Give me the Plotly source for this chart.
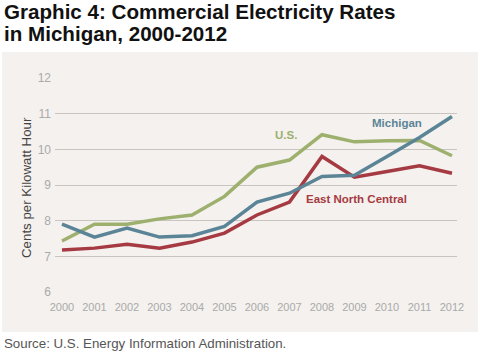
import plotly.graph_objects as go

years = list(range(2000, 2013))
michigan = [7.90, 7.54, 7.79, 7.54, 7.58, 7.84, 8.52, 8.77, 9.24, 9.27, 9.80, 10.33, 10.92]
us = [7.43, 7.90, 7.90, 8.05, 8.16, 8.68, 9.50, 9.70, 10.41, 10.21, 10.24, 10.25, 9.82]
enc = [7.18, 7.23, 7.34, 7.23, 7.40, 7.65, 8.16, 8.52, 9.80, 9.22, 9.38, 9.54, 9.33]
y_ticks = [6, 7, 8, 9, 10, 11, 12]

C_MI = "#5b8597"
C_US = "#9db06e"
C_ENC = "#a63a42"

fig = go.Figure()
for name, vals, col in [("U.S.", us, C_US), ("East North Central", enc, C_ENC), ("Michigan", michigan, C_MI)]:
    fig.add_trace(go.Scatter(x=years, y=vals, mode="lines", name=name,
                             line=dict(color=col, width=3.5)))

W, H = 480, 356
L, R, T, B = 55, 23, 78, 64
pw, ph = W - L - R, H - T - B

def px_x(px):
    return (px - L) / pw

def px_y(py):
    return (H - B - py) / ph

fig.add_shape(type="rect", xref="paper", yref="paper", layer="below",
              x0=px_x(2), x1=px_x(478), y0=px_y(332), y1=px_y(52),
              fillcolor="#f4f1ee", line=dict(width=0))

font = "Liberation Sans, Arial, sans-serif"
ann = [
    dict(text="<b>Graphic 4: Commercial Electricity Rates</b>", x=px_x(2), y=px_y(11),
         xanchor="left", yanchor="middle", font=dict(size=20.6, color="#111")),
    dict(text="<b>in Michigan, 2000-2012</b>", x=px_x(2), y=px_y(34),
         xanchor="left", yanchor="middle", font=dict(size=20.6, color="#111")),
    dict(text="Source: U.S. Energy Information Administration.", x=px_x(2), y=px_y(343),
         xanchor="left", yanchor="middle", font=dict(size=13.3, color="#555")),
    dict(text="Cents per Kilowatt Hour", x=px_x(26), y=px_y(188), textangle=-90,
         xanchor="center", yanchor="middle", font=dict(size=13.3, color="#444")),
]
for a in ann:
    a.update(xref="paper", yref="paper", showarrow=False)
    a["font"]["family"] = font
    fig.add_annotation(**a)

labels = [("<b>Michigan</b>", 2010.30, 10.73, C_MI),
          ("<b>U.S.</b>", 2006.88, 10.40, C_US),
          ("<b>East North Central</b>", 2009.07, 8.61, C_ENC)]
for t, x, y, c in labels:
    fig.add_annotation(text=t, x=x, y=y, xref="x", yref="y", showarrow=False,
                       xanchor="center", yanchor="middle",
                       font=dict(size=11.5, color=c, family=font))

fig.update_layout(
    width=W, height=H, margin=dict(l=L, r=R, t=T, b=B),
    paper_bgcolor="white", plot_bgcolor="rgba(0,0,0,0)",
    showlegend=False, font=dict(family=font),
    xaxis=dict(range=[1999.785, 2012.154], tickvals=years, ticktext=[str(y) for y in years],
               showgrid=False, zeroline=False, showline=False, ticks="",
               ticklabelstandoff=7,
               tickfont=dict(size=11, color="#aaaaaa")),
    yaxis=dict(range=[6, 12], tickvals=y_ticks, showgrid=True, gridcolor="#c8c4c0",
               gridwidth=1, zeroline=False, showline=False, ticks="",
               ticklabelstandoff=3,
               tickfont=dict(size=12, color="#aaaaaa")),
)

fig.write_html("out.html", config={"displayModeBar": False},
               post_script="document.body.style.margin='0';document.body.style.overflow='hidden';")
